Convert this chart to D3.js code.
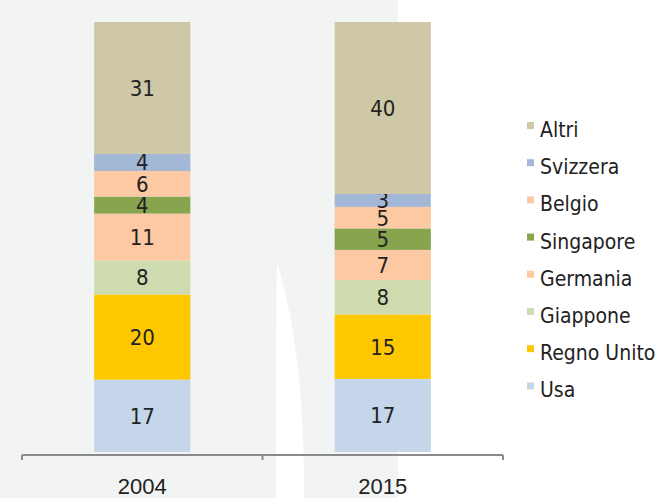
<!DOCTYPE html>
<html>
<head>
<meta charset="utf-8">
<script src="https://cdn.jsdelivr.net/npm/d3@7"></script>
<style>
  body { margin: 0; background: #fff; }
  svg { display: block; font-family: 'Liberation Sans Narrow', 'DejaVu Sans Condensed', sans-serif; }
</style>
</head>
<body>
<svg id="chart" width="663" height="498"></svg>
<script>
// data (quote per paese, %)
const years = ["2004", "2015"]
const countries = ["Usa", "Regno Unito", "Giappone", "Germania", "Singapore", "Belgio", "Svizzera", "Altri"]
const values2004 = [17, 20, 8, 11, 4, 6, 4, 31]
const values2015 = [17, 15, 8, 7, 5, 5, 3, 40]
const colours = ["#c5d6ea", "#fec800", "#cfdcb0", "#fcc9a2", "#88a44e", "#fcc9a2", "#a3b7d7", "#cec8a6"]

const width = 663
const height = 498

const svg = d3.select('#chart')

// background panel + white wedge
svg.append('rect')
  .attr('x', 0).attr('y', 0)
  .attr('width', 398).attr('height', height)
  .attr('fill', '#f2f4f3')

svg.append('path')
  .attr('d', 'M277,262 C276,330 276,420 276,498 L304,498 C304,420 300,340 277,262 Z')
  .attr('fill', '#ffffff')

// build the table for the stack
const table = years.map((yr, i) => {
  const vals = i == 0 ? values2004 : values2015
  const row = {year: yr}
  countries.forEach((c, j) => row[c] = vals[j])
  return row
})

const series = d3.stack()
  .keys(countries)
  .offset(d3.stackOffsetExpand)(table)

const x = d3.scaleBand()
  .domain(years)
  .range([22, 503])
  .paddingInner(0.6)
  .paddingOuter(0.3)

const y = d3.scaleLinear()
  .domain([0, 1])
  .range([452, 22])

const colour = d3.scaleOrdinal().domain(countries).range(colours)

const bars = svg.append('g').attr('class', 'bars')

const layers = bars.selectAll('g').data(series)
  .join('g')
  .attr('fill', d => colour(d.key))

layers.selectAll('rect').data(d => d)
  .join('rect')
  .attr('x', d => x(d.data.year))
  .attr('width', x.bandwidth())
  .attr('y', d => y(d[1]))
  .attr('height', d => y(d[0]) - y(d[1]))

// value labels
layers.selectAll('text').data(d => d.map(p => ({p, key: d.key})))
  .join('text')
  .attr('x', d => x(d.p.data.year) + x.bandwidth() / 2)
  .attr('y', d => (y(d.p[0]) + y(d.p[1])) / 2)
  .attr('dy', '0.36em')
  .attr('text-anchor', 'middle')
  .attr('font-size', 22)
  .attr('fill', '#222')
  .text(d => d.p.data[d.key])

// axis line with ticks at the band boundaries
const axisY = 455
const r = x.range()
const mid = x(years[1]) - x.step() * x.paddingInner() / 2
const bounds = [r[0], mid, r[1]]

svg.append('line')
  .attr('x1', r[0]).attr('x2', r[1])
  .attr('y1', axisY).attr('y2', axisY)
  .attr('stroke', '#8a8a8a')
  .attr('stroke-width', 2)

svg.selectAll('.tick-mark').data(bounds)
  .join('line')
  .attr('class', 'tick-mark')
  .attr('x1', d => d).attr('x2', d => d)
  .attr('y1', axisY).attr('y2', axisY + 5)
  .attr('stroke', '#8a8a8a')
  .attr('stroke-width', 2)

const xAxis = svg.append('g')
  .attr('transform', `translate(0,${axisY})`)
  .call(d3.axisBottom(x).tickSize(0).tickPadding(23))
xAxis.select('.domain').remove()
xAxis.selectAll('text')
  .attr('font-size', 22)
  .attr('font-family', null)
  .attr('fill', '#222')

// legend, top entry = top of the stack
const legendItems = countries.slice().reverse()
const legend = svg.append('g')
  .attr('transform', 'translate(527,122)')

const item = legend.selectAll('g').data(legendItems)
  .join('g')
  .attr('transform', (d, i) => `translate(0,${i * 37.2})`)

item.append('rect')
  .attr('width', 7).attr('height', 7)
  .attr('fill', d => colour(d))

item.append('text')
  .attr('x', 13)
  .attr('y', 15)
  .attr('font-size', 21)
  .attr('fill', '#222')
  .text(d => d)
</script>
</body>
</html>
